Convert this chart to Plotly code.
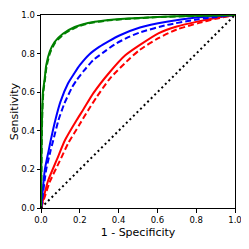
import plotly.graph_objects as go

# ROC curves
green_solid_fpr = [0, 0.001, 0.003, 0.006, 0.01, 0.019, 0.027, 0.045, 0.07, 0.113, 0.174, 0.242, 0.328, 0.45, 0.6, 0.8, 1.0]
green_solid_tpr = [0, 0.15, 0.35, 0.5, 0.6, 0.67, 0.74, 0.81, 0.86, 0.903, 0.938, 0.959, 0.972, 0.982, 0.99, 0.996, 1.0]
green_dash_fpr = [0, 0.002, 0.004, 0.007, 0.012, 0.021, 0.029, 0.047, 0.073, 0.117, 0.178, 0.246, 0.33, 0.45, 0.6, 0.8, 1.0]
green_dash_tpr = [0, 0.15, 0.35, 0.5, 0.6, 0.67, 0.735, 0.805, 0.857, 0.9, 0.935, 0.957, 0.97, 0.98, 0.989, 0.995, 1.0]

blue_solid_fpr = [0, 0.005, 0.02, 0.04, 0.05, 0.075, 0.1, 0.139, 0.17, 0.2, 0.25, 0.3, 0.35, 0.407, 0.51, 0.648, 0.81, 1.0]
blue_solid_tpr = [0, 0.05, 0.2, 0.30, 0.35, 0.46, 0.55, 0.645, 0.695, 0.74, 0.797, 0.835, 0.865, 0.895, 0.935, 0.965, 0.988, 1.0]
blue_dash_fpr = [0, 0.007, 0.027, 0.05, 0.063, 0.09, 0.12, 0.16, 0.184, 0.22, 0.27, 0.32, 0.38, 0.45, 0.51, 0.648, 0.81, 1.0]
blue_dash_tpr = [0, 0.05, 0.2, 0.30, 0.35, 0.455, 0.54, 0.625, 0.663, 0.71, 0.767, 0.805, 0.848, 0.885, 0.91, 0.948, 0.978, 1.0]

red_solid_fpr = [0, 0.01, 0.036, 0.081, 0.124, 0.184, 0.218, 0.27, 0.356, 0.433, 0.51, 0.605, 0.7, 0.811, 0.9, 1.0]
red_solid_tpr = [0, 0.04, 0.14, 0.249, 0.352, 0.456, 0.51, 0.595, 0.706, 0.79, 0.845, 0.905, 0.94, 0.967, 0.985, 1.0]
red_dash_fpr = [0, 0.012, 0.045, 0.095, 0.14, 0.2, 0.244, 0.287, 0.356, 0.459, 0.51, 0.605, 0.7, 0.811, 0.9, 1.0]
red_dash_tpr = [0, 0.035, 0.135, 0.24, 0.335, 0.435, 0.508, 0.575, 0.672, 0.776, 0.82, 0.88, 0.925, 0.958, 0.98, 1.0]

chance_x = [0, 1]
chance_y = [0, 1]

tick_vals = [0, 0.2, 0.4, 0.6, 0.8, 1.0]
tick_text = ["0.0", "0.2", "0.4", "0.6", "0.8", "1.0"]

fig = go.Figure()
LW = 2
curves = [
    (red_solid_fpr, red_solid_tpr, "#ff0000", "solid"),
    (red_dash_fpr, red_dash_tpr, "#ff0000", "6px,3px"),
    (blue_solid_fpr, blue_solid_tpr, "#0000ff", "solid"),
    (blue_dash_fpr, blue_dash_tpr, "#0000ff", "6px,3px"),
    (green_solid_fpr, green_solid_tpr, "#008000", "solid"),
    (green_dash_fpr, green_dash_tpr, "#008000", "6px,3px"),
]
for x, y, c, d in curves:
    fig.add_trace(go.Scatter(x=x, y=y, mode="lines", line=dict(color=c, width=LW, dash=d, shape="spline", smoothing=0.6),
                             showlegend=False, hoverinfo="skip"))
fig.add_trace(go.Scatter(x=chance_x, y=chance_y, mode="lines", line=dict(color="black", width=2, dash="2px,3px"),
                         showlegend=False, hoverinfo="skip"))

axis_common = dict(
    range=[0, 1], tickvals=tick_vals, ticktext=tick_text, showgrid=False, zeroline=False,
    showline=True, linecolor="black", linewidth=1, mirror=True, automargin=False,
    ticks="outside", ticklen=3.5, tickwidth=1, tickcolor="black",
    tickfont=dict(family="DejaVu Sans", size=8.5, color="black"),
)
fig.update_xaxes(**axis_common, title=dict(text="1 - Specificity", font=dict(family="DejaVu Sans", size=11, color="black"), standoff=4))
fig.update_yaxes(**axis_common, title=dict(text="Sensitivity", font=dict(family="DejaVu Sans", size=11, color="black"), standoff=5))

fig.update_layout(
    width=241, height=241,
    margin=dict(l=33, r=14, t=7, b=41, pad=0),
    paper_bgcolor="white", plot_bgcolor="white",
)
fig.write_html("out.html")
